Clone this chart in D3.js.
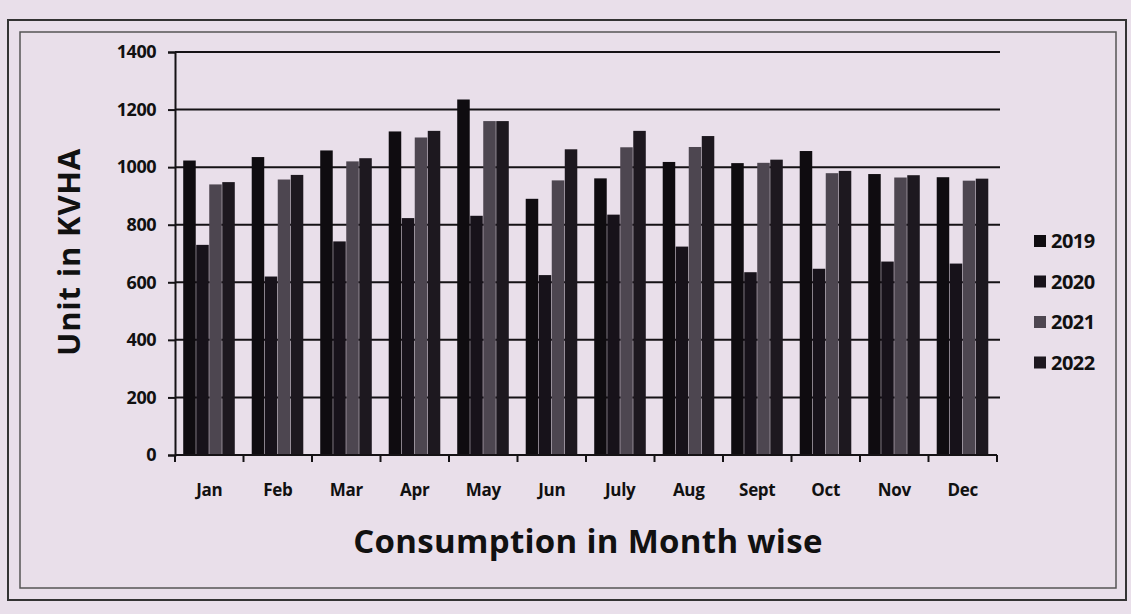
<!DOCTYPE html>
<html>
<head>
<meta charset="utf-8">
<script src="https://cdn.jsdelivr.net/npm/d3@7"></script>
<style>
  body { margin: 0; background: #e9dfea; }
  svg { display: block; }
  text { font-family: "Open Sans", "Noto Sans", sans-serif; font-weight: bold; fill: #111; }
</style>
</head>
<body>
<svg width="1131" height="614"></svg>
<script>
// data
var months = ["Jan", "Feb", "Mar", "Apr", "May", "Jun", "July", "Aug", "Sept", "Oct", "Nov", "Dec"];
var years = ["2019", "2020", "2021", "2022"];
var v2019 = [1023, 1035, 1058, 1124, 1235, 890, 961, 1018, 1014, 1056, 976, 965];
var v2020 = [730, 620, 742, 823, 831, 625, 835, 724, 635, 647, 672, 665];
var v2021 = [940, 957, 1020, 1103, 1160, 954, 1069, 1070, 1015, 979, 964, 953];
var v2022 = [948, 973, 1031, 1126, 1160, 1062, 1126, 1108, 1026, 987, 972, 960];
var yTicks = [0, 200, 400, 600, 800, 1000, 1200, 1400];

var series = [v2019, v2020, v2021, v2022];
var colors = ["#0f0c10", "#17121a", "#4d4650", "#1d181f"];

var svg = d3.select("svg"),
    width = +svg.attr("width"),
    height = +svg.attr("height");

// paper frames
svg.append("rect").attr("x", 8).attr("y", 20).attr("width", 1118).attr("height", 580)
    .attr("fill", "none").attr("stroke", "#333").attr("stroke-width", 2);
svg.append("rect").attr("x", 20).attr("y", 32).attr("width", 1096).attr("height", 556)
    .attr("fill", "none").attr("stroke", "#555").attr("stroke-width", 1.5);

var plotLeft = 175, plotRight = 997, plotTop = 52, plotBottom = 455;

var x = d3.scaleBand().domain(months).range([plotLeft, plotRight]).paddingInner(0.24).paddingOuter(0.12);
var xs = d3.scaleBand().domain(years).range([0, x.bandwidth()]);
var y = d3.scaleLinear().domain([0, 1400]).range([plotBottom, plotTop]);

// gridlines
svg.append("g").selectAll("line").data(yTicks.slice(1)).enter().append("line")
    .attr("x1", plotLeft).attr("x2", plotRight + 3)
    .attr("y1", d => y(d)).attr("y2", d => y(d))
    .attr("stroke", "#151215").attr("stroke-width", 2);

// bars
var groups = svg.append("g").selectAll("g").data(months).enter().append("g")
    .attr("transform", d => "translate(" + x(d) + ",0)");
groups.selectAll("rect")
    .data((m, i) => series.map((s, k) => ({ year: years[k], value: s[i], k: k })))
    .enter().append("rect")
    .attr("x", d => xs(d.year))
    .attr("width", xs.bandwidth() - 0.5)
    .attr("y", d => y(d.value))
    .attr("height", d => plotBottom - y(d.value))
    .attr("fill", d => colors[d.k]);

// y axis
var yAxis = svg.append("g").attr("transform", "translate(" + plotLeft + ",0)")
    .call(d3.axisLeft(y).tickValues(yTicks).tickFormat(d3.format("d")).tickSize(7).tickPadding(12));
yAxis.select(".domain").attr("stroke", "#151215").attr("stroke-width", 2);
yAxis.selectAll(".tick line").attr("stroke", "#151215").attr("stroke-width", 2);
yAxis.selectAll("text").attr("font-size", 18).style("font-family", "'Open Sans', sans-serif")
    .attr("font-weight", "bold").attr("fill", "#111").attr("letter-spacing", -0.5);

// x axis with ticks between categories
var xAxis = svg.append("g").attr("transform", "translate(0," + plotBottom + ")");
xAxis.append("line").attr("x1", plotLeft).attr("x2", plotRight).attr("stroke", "#151215").attr("stroke-width", 2);
var edges = months.map(m => x(m) - x.step() * x.paddingInner() / 2).concat([plotRight]);
xAxis.selectAll("line.tk").data(edges).enter().append("line").attr("class", "tk")
    .attr("x1", d => d).attr("x2", d => d).attr("y1", 0).attr("y2", 7)
    .attr("stroke", "#151215").attr("stroke-width", 2);
xAxis.selectAll("text").data(months).enter().append("text")
    .attr("x", d => x(d) + x.bandwidth() / 2)
    .attr("y", 41)
    .attr("text-anchor", "middle")
    .attr("font-size", 17)
    .attr("letter-spacing", -0.3)
    .text(d => d);

// axis titles
svg.append("text").attr("x", 588).attr("y", 553).attr("text-anchor", "middle")
    .attr("font-size", 33).attr("letter-spacing", 0.3).text("Consumption in Month wise");
svg.append("text").attr("transform", "translate(80,252) rotate(-90)").attr("text-anchor", "middle")
    .attr("font-size", 31).attr("letter-spacing", 0.8).text("Unit in KVHA");

// legend
var legend = svg.append("g").selectAll("g").data(years).enter().append("g")
    .attr("transform", (d, i) => "translate(1034," + (248 + i * 40.5) + ")");
legend.append("rect").attr("x", 0).attr("y", -13).attr("width", 12).attr("height", 12)
    .attr("fill", (d, i) => colors[i]);
legend.append("text").attr("x", 17).attr("y", 0).attr("font-size", 20).attr("letter-spacing", -0.5).text(d => d);
</script>
</body>
</html>
